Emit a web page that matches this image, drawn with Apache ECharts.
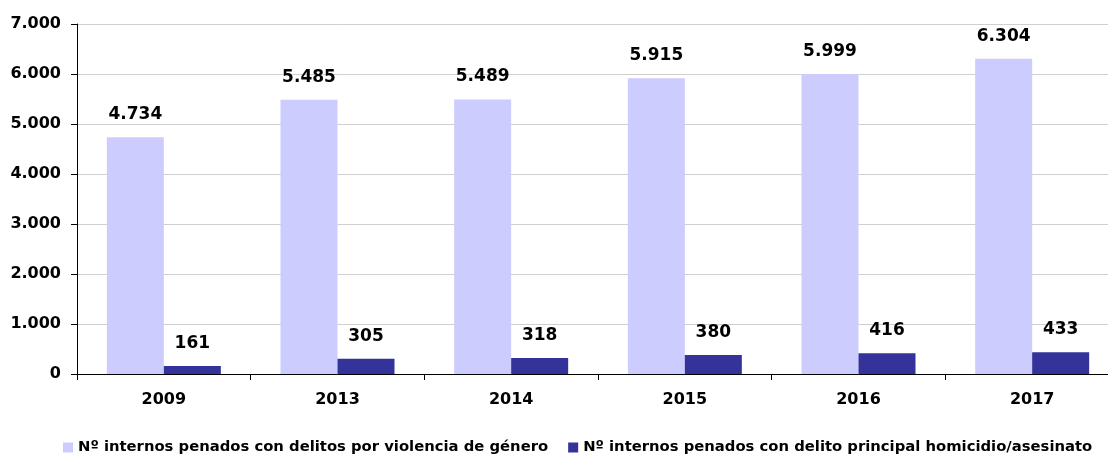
<!DOCTYPE html>
<html><head><meta charset="utf-8">
<script src="https://cdn.jsdelivr.net/npm/echarts@6/dist/echarts.min.js"></script>
<style>html,body{margin:0;padding:0;background:#fff;overflow:hidden;width:1108px;height:456px}#c{width:1130px;height:456px}</style>
</head><body><div id="c"></div>
<script>
const categories = ['2009','2013','2014','2015','2016','2017'];
const violenciaGenero = [4734, 5485, 5489, 5915, 5999, 6304];
const homicidio = [161, 305, 318, 380, 416, 433];
const seriesNames = ['Nº internos penados con delitos por violencia de género','Nº internos penados con delito principal homicidio/asesinato'];
const yTicks = [0, 1000, 7000];

function fmt(v){ return String(v).replace(/\B(?=(\d{3})+(?!\d))/g, '.'); }
const FONT = 'DejaVu Sans';
const chart = echarts.init(document.getElementById('c'), null, {renderer:'canvas'});
const labelStyle = {show:true, position:'top', distance:14, color:'#000', fontWeight:'bold', fontSize:17, fontFamily:FONT, formatter:p=>fmt(p.value)};
chart.setOption({
  animation:false,
  textStyle:{fontFamily:FONT},
  grid:{left:77, right:11, top:24, height:350},
  legend:{bottom:-4, left:58, itemWidth:10, itemHeight:10, itemGap:20, icon:'rect',
    textStyle:{fontSize:14.8, fontWeight:'bold', color:'#000', fontFamily:FONT}},
  xAxis:{type:'category', data:categories,
    axisLine:{lineStyle:{color:'#000', width:1}},
    axisTick:{show:true, length:6, lineStyle:{color:'#000'}},
    axisLabel:{color:'#000', fontSize:16, fontWeight:'bold', margin:18, fontFamily:FONT}},
  yAxis:{type:'value', min:yTicks[0], max:yTicks[2], interval:yTicks[1],
    axisLine:{show:true, lineStyle:{color:'#000'}},
    axisTick:{show:true, length:6, lineStyle:{color:'#000'}},
    splitLine:{lineStyle:{color:'#D0D0D0'}},
    axisLabel:{color:'#000', fontSize:16, fontWeight:'bold', margin:16, fontFamily:FONT, formatter:v=>fmt(v)}},
  series:[
    {name:seriesNames[0], type:'bar', data:violenciaGenero, barWidth:57, barGap:'0%', itemStyle:{color:'#CCCCFF'}, label:labelStyle},
    {name:seriesNames[1], type:'bar', data:homicidio, barWidth:57, barGap:'0%', itemStyle:{color:'#333399'}, label:labelStyle}
  ]
});
</script></body></html>
